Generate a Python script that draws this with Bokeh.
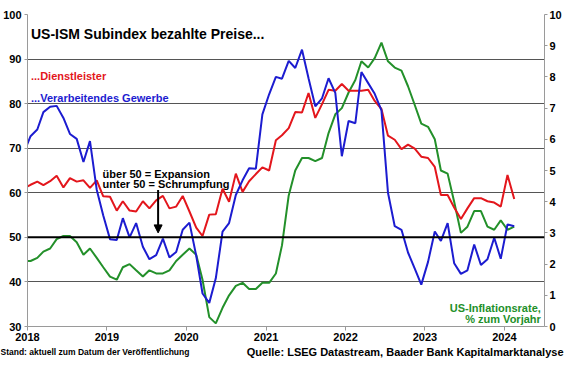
import pandas as pd
from bokeh.plotting import figure
from bokeh.layouts import column
from bokeh.models import (Range1d, LinearAxis, FixedTicker, DatetimeTickFormatter,
                          Span, Label, Arrow, NormalHead)
from bokeh.embed import file_html
from bokeh.resources import INLINE

# monthly observations, Dec 2017 .. Feb 2024 (dated mid-month)
dates = pd.date_range("2017-12-01", "2024-02-01", freq="MS") + pd.Timedelta(days=14)

services = [61.0,
            61.8, 62.5, 61.7, 62.6, 63.8, 61.2, 63.3, 62.5, 62.8, 61.1, 62.8, 59.2,
            59.1, 56.0, 58.1, 56.0, 55.8, 58.1, 56.5, 58.3, 59.3, 56.5, 56.9, 59.3,
            55.8, 52.2, 50.3, 55.1, 55.2, 60.9, 58.0, 64.3, 60.2, 62.6, 64.2, 65.7,
            65.0, 71.8, 72.9, 74.5, 78.1, 78.0, 82.4, 76.8, 79.9, 83.1, 82.9, 84.4,
            82.9, 82.9, 82.9, 83.1, 80.6, 78.8, 72.8, 71.9, 69.8, 70.8, 69.9, 68.1,
            67.8, 65.8, 59.5, 59.5, 56.7, 54.1, 56.5, 58.8, 58.8, 58.1, 57.8, 56.9,
            64.0, 58.6]

manufacturing = [69.0,
                 72.7, 74.2, 78.1, 79.3, 79.5, 76.8, 73.2, 72.1, 66.9, 71.6, 60.7, 54.9,
                 49.6, 49.4, 54.3, 50.0, 53.2, 47.9, 45.1, 46.0, 49.7, 45.5, 46.7, 51.7,
                 53.3, 45.9, 37.4, 35.3, 40.8, 51.3, 53.2, 59.5, 62.8, 65.5, 65.4, 77.6,
                 82.1, 86.0, 85.6, 89.6, 88.0, 92.1, 85.7, 79.4, 81.2, 85.7, 82.4, 68.2,
                 76.1, 75.6, 87.1, 84.6, 82.2, 78.5, 60.0, 52.5, 51.7, 46.6, 43.0, 39.4,
                 44.5, 51.3, 49.2, 53.2, 44.2, 41.8, 42.6, 48.4, 43.8, 45.1, 49.9, 45.2,
                 52.9, 52.5]

cpi = [2.1,
       2.1, 2.2, 2.4, 2.5, 2.8, 2.9, 2.9, 2.7, 2.3, 2.5, 2.2, 1.9,
       1.6, 1.5, 1.9, 2.0, 1.8, 1.6, 1.8, 1.7, 1.7, 1.8, 2.1, 2.3,
       2.5, 2.3, 1.5, 0.3, 0.1, 0.6, 1.0, 1.3, 1.4, 1.2, 1.2, 1.4,
       1.4, 1.7, 2.6, 4.2, 5.0, 5.4, 5.4, 5.3, 5.4, 6.2, 6.8, 7.0,
       7.5, 7.9, 8.5, 8.3, 8.6, 9.1, 8.5, 8.3, 8.2, 7.7, 7.1, 6.5,
       6.4, 6.0, 5.0, 4.9, 4.0, 3.0, 3.2, 3.7, 3.7, 3.2, 3.1, 3.4,
       3.1, 3.2]

years = [2018, 2019, 2020, 2021, 2022, 2023, 2024]
left_ticks = [30, 40, 50, 60, 70, 80, 90, 100]
right_ticks = [0, 1, 2, 3, 4, 5, 6, 7, 8, 9, 10]

RED = "#e3161c"
BLUE = "#1c1cd0"
GREEN = "#23902a"
FONT = "Liberation Sans"

W = 564
FOOT_H = 16
MAIN_H = 359 - FOOT_H


def ms(s):
    return pd.Timestamp(s).value / 1e6


p = figure(width=W, height=MAIN_H, x_axis_type="datetime", output_backend="svg",
           toolbar_location=None,
           x_range=Range1d(ms("2018-01-01"), ms("2024-07-03")),
           y_range=Range1d(30, 100),
           min_border_left=5, min_border_right=5, min_border_top=14, min_border_bottom=10)
p.extra_y_ranges = {"cpi": Range1d(0, 10)}
p.outline_line_color = None
p.background_fill_color = "white"
p.border_fill_color = "white"

p.xgrid.visible = False
p.ygrid.ticker = FixedTicker(ticks=[40, 60, 70, 80, 90, 100])
p.ygrid.grid_line_color = "#555555"
p.ygrid.grid_line_width = 1

p.add_layout(Span(location=50, dimension="width", line_color="black", line_width=2))


def style_axis(ax):
    ax.major_label_text_font = FONT
    ax.major_label_text_font_size = "11px"
    ax.major_label_text_font_style = "bold"
    ax.major_label_text_color = "black"
    ax.axis_line_color = "#9a9a9a"
    ax.major_tick_line_color = "#9a9a9a"
    ax.minor_tick_line_color = None
    ax.major_tick_in = 0
    ax.major_tick_out = 3
    ax.major_label_standoff = 3


yl = p.yaxis[0]
yl.ticker = FixedTicker(ticks=left_ticks)
style_axis(yl)

yr = LinearAxis(y_range_name="cpi", ticker=FixedTicker(ticks=right_ticks))
style_axis(yr)
yr.major_label_standoff = 2
p.add_layout(yr, "right")

xa = p.xaxis[0]
xa.ticker = FixedTicker(ticks=[ms(f"{y}-01-01") for y in years])
xa.formatter = DatetimeTickFormatter(years="%Y", months="%Y", days="%Y", hours="%Y",
                                     minutes="%Y", seconds="%Y", milliseconds="%Y",
                                     microseconds="%Y", minsec="%Y", hourmin="%Y")
style_axis(xa)
xa.major_tick_out = 4
xa.major_label_standoff = 2

p.line(dates, cpi, line_color=GREEN, line_width=2, y_range_name="cpi")
p.line(dates, services, line_color=RED, line_width=2)
p.line(dates, manufacturing, line_color=BLUE, line_width=2)


def lab(fig, x, y, text, color="black", size="11px", align="left", style="bold",
        baseline="alphabetic"):
    fig.add_layout(Label(x=x, y=y, text=text, text_color=color, text_font=FONT,
                         text_font_size=size, text_font_style=style, text_align=align,
                         text_baseline=baseline))


lab(p, ms("2018-01-17"), 95.7, "US-ISM Subindex bezahlte Preise...", size="14px")
lab(p, ms("2018-01-17"), 86.1, "...Dienstleister", color=RED)
lab(p, ms("2018-01-17"), 81.3, "...Verarbeitendes Gewerbe", color=BLUE)
lab(p, ms("2018-12-12"), 64.2, "über 50 = Expansion")
lab(p, ms("2018-12-12"), 61.9, "unter 50 = Schrumpfung")
lab(p, ms("2024-06-16"), 34.1, "US-Inflationsrate,", color=GREEN, align="right")
lab(p, ms("2024-06-16"), 31.7, "% zum Vorjahr", color=GREEN, align="right")

p.add_layout(Arrow(end=NormalHead(size=8, fill_color="black", line_color="black"),
                   x_start=ms("2019-08-24"), y_start=60.6,
                   x_end=ms("2019-08-24"), y_end=51.0,
                   line_color="black", line_width=2))

# footer strip with source notes
foot = figure(width=W, height=FOOT_H, output_backend="svg", toolbar_location=None,
              x_range=Range1d(0, W), y_range=Range1d(0, FOOT_H),
              x_axis_type=None, y_axis_type=None,
              min_border_left=0, min_border_right=0, min_border_top=0, min_border_bottom=0)
foot.frame_align = False
foot.outline_line_color = None
foot.xgrid.visible = False
foot.ygrid.visible = False
lab(foot, 0, 8, "Stand: aktuell zum Datum der Veröffentlichung", size="8.5px",
    baseline="middle")
lab(foot, W - 1, 8, "Quelle: LSEG Datastream, Baader Bank Kapitalmarktanalyse",
    align="right", baseline="middle")

layout = column(p, foot, spacing=0)
open("out.html", "w").write(file_html(layout, INLINE))
